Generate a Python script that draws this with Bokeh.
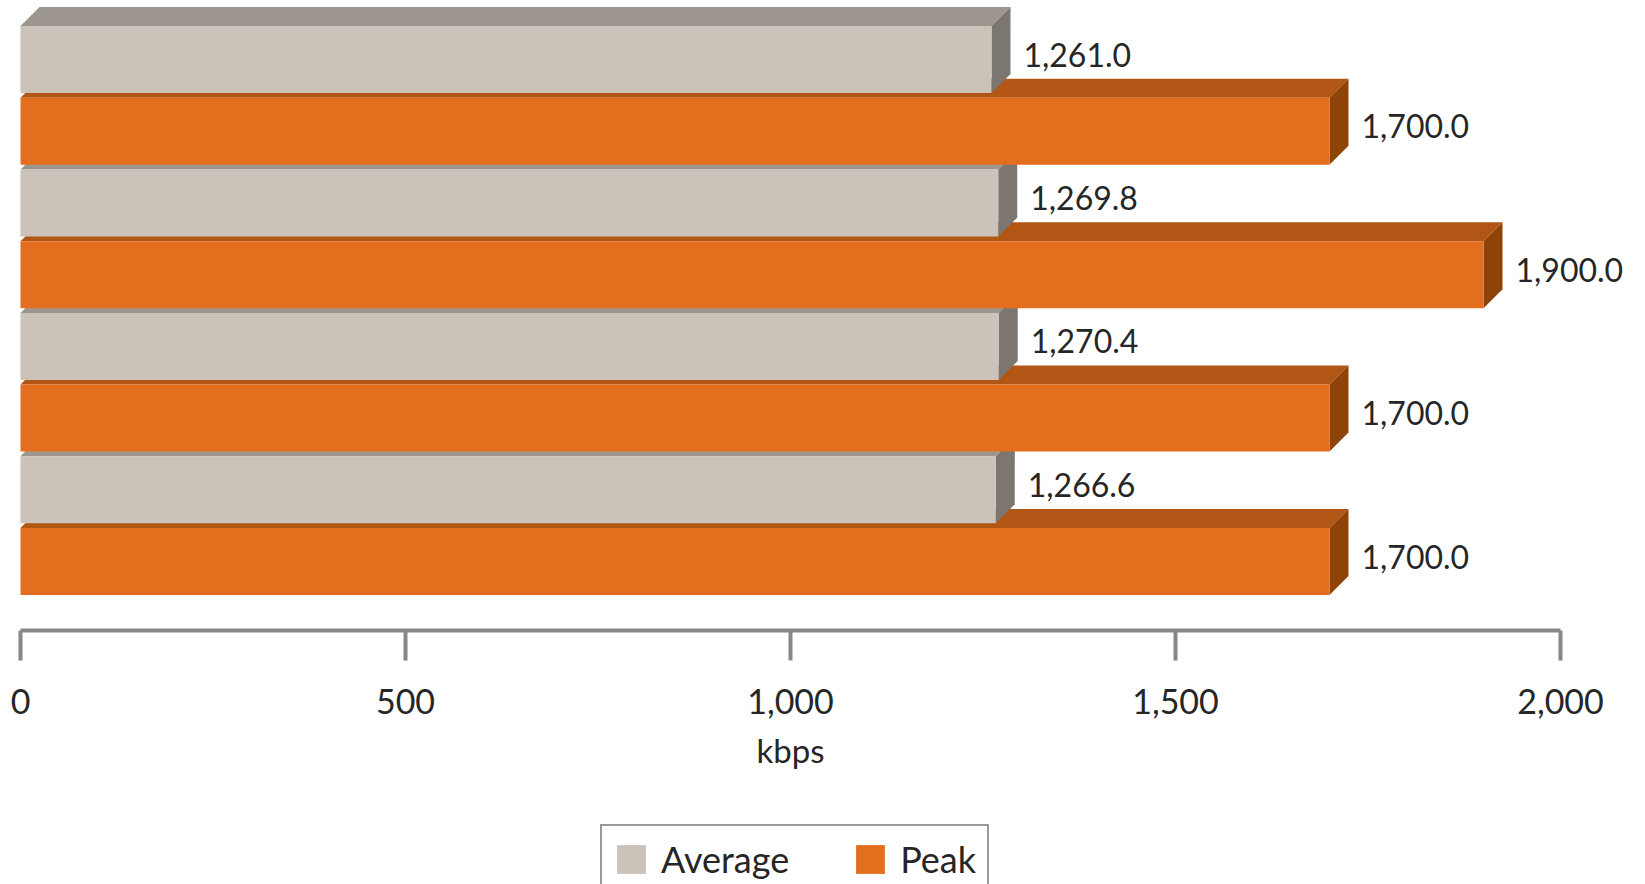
from bokeh.plotting import figure
from bokeh.models import (Range1d, LinearAxis, FixedTicker, NumeralTickFormatter,
                          Legend, LegendItem, ColumnDataSource)
from bokeh.core.properties import value
from bokeh.embed import file_html
from bokeh.resources import INLINE

# ---------------- data ----------------
groups = ["1", "2", "3", "4"]           # categories (no labels shown in the chart)
average = [1261.0, 1269.8, 1270.4, 1266.6]
peak = [1700.0, 1900.0, 1700.0, 1700.0]
series_names = ["Average", "Peak"]
x_ticks = [0, 500, 1000, 1500, 2000]
x_label = "kbps"

# ---------------- style / layout ----------------
W, H = 1645, 884
X0_PX, PXU_X = 20.0, 0.770        # pixel of value 0, pixels per kbps
Y0_PX, PXU_Y = 94.95, 143.4       # pixel of first group centre, pixels per group
DEPTH_PX = 19.0
BAR_PX = 67.0
AXIS_PX = 630.0
FONT = "Lato"
TXT = "#262626"

AVG_COLS = ("#CBC2B9", "#9C968F", "#7B7770")   # front, top, side
PEAK_COLS = ("#E36F1E", "#B25615", "#8E4308")

x_range = Range1d(-X0_PX / PXU_X, (W - X0_PX) / PXU_X)
y_range = Range1d((H - Y0_PX) / PXU_Y, -Y0_PX / PXU_Y)   # flipped: down = larger

p = figure(width=W, height=H, x_range=x_range, y_range=y_range,
           output_backend="svg", toolbar_location=None,
           x_axis_location=None, y_axis_location=None, min_border=0)
p.outline_line_color = None
p.grid.visible = False
p.background_fill_color = "white"
p.border_fill_color = "white"

dx = DEPTH_PX / PXU_X
dy = DEPTH_PX / PXU_Y
bh = BAR_PX / PXU_Y

y_avg = [i - 0.25 for i in range(len(groups))]
y_peak = [i + 0.25 for i in range(len(groups))]


def faces(vals, ys):
    tops_x, tops_y, sides_x, sides_y = [], [], [], []
    for v, y in zip(vals, ys):
        yt, yb = y - bh / 2, y + bh / 2
        tops_x.append([0, v, v + dx, dx])
        tops_y.append([yt, yt, yt - dy, yt - dy])
        sides_x.append([v, v + dx, v + dx, v])
        sides_y.append([yt, yt - dy, yb - dy, yb])
    return tops_x, tops_y, sides_x, sides_y


at_x, at_y, as_x, as_y = faces(average, y_avg)
pt_x, pt_y, ps_x, ps_y = faces(peak, y_peak)

# top faces, then side faces, then fronts
p.patches(pt_x, pt_y, fill_color=PEAK_COLS[1], line_color=None)
p.patches(at_x, at_y, fill_color=AVG_COLS[1], line_color=None)
p.patches(ps_x, ps_y, fill_color=PEAK_COLS[2], line_color=None)
p.patches(as_x, as_y, fill_color=AVG_COLS[2], line_color=None)

src_avg = ColumnDataSource(dict(y=y_avg, v=average, t=[f"{v:,.1f}" for v in average]))
src_peak = ColumnDataSource(dict(y=y_peak, v=peak, t=[f"{v:,.1f}" for v in peak]))

r_avg = p.hbar(y="y", left=0, right="v", height=bh, source=src_avg,
               fill_color=AVG_COLS[0], line_color=None)
r_peak = p.hbar(y="y", left=0, right="v", height=bh, source=src_peak,
                fill_color=PEAK_COLS[0], line_color=None)

for src in (src_avg, src_peak):
    p.text(x="v", y="y", text="t", source=src, x_offset=32, y_offset=-5,
           text_baseline="middle", text_align="left",
           text_font=value(FONT), text_font_size="32px", text_color=TXT)

# x axis drawn inside the frame
xaxis = LinearAxis(fixed_location=(AXIS_PX - Y0_PX) / PXU_Y,
                   bounds=(x_ticks[0], x_ticks[-1]),
                   ticker=FixedTicker(ticks=x_ticks),
                   formatter=NumeralTickFormatter(format="0,0"),
                   axis_label=x_label)
xaxis.axis_line_color = "#85878A"
xaxis.axis_line_width = 4
xaxis.major_tick_line_color = "#85878A"
xaxis.major_tick_line_width = 4
xaxis.major_tick_out = 30
xaxis.major_tick_in = 0
xaxis.minor_tick_line_color = None
xaxis.major_label_standoff = 28
xaxis.major_label_text_font = FONT
xaxis.major_label_text_font_size = "34px"
xaxis.major_label_text_color = TXT
xaxis.axis_label_standoff = 13
xaxis.axis_label_text_font = FONT
xaxis.axis_label_text_font_size = "33px"
xaxis.axis_label_text_font_style = "normal"
xaxis.axis_label_text_color = TXT
p.add_layout(xaxis, "below")

legend = Legend(items=[LegendItem(label=series_names[0], renderers=[r_avg]),
                       LegendItem(label=series_names[1], renderers=[r_peak])],
                orientation="horizontal", location=(600, -10))
legend.glyph_width = 36
legend.glyph_height = 36
legend.label_standoff = 12
legend.spacing = 63
legend.padding = 11
legend.margin = 0
legend.label_text_font = FONT
legend.label_text_font_size = "36px"
legend.label_text_color = TXT
legend.border_line_color = "#333333"
legend.border_line_width = 2
legend.background_fill_alpha = 1
p.add_layout(legend)

open("out.html", "w").write(file_html(p, INLINE))
